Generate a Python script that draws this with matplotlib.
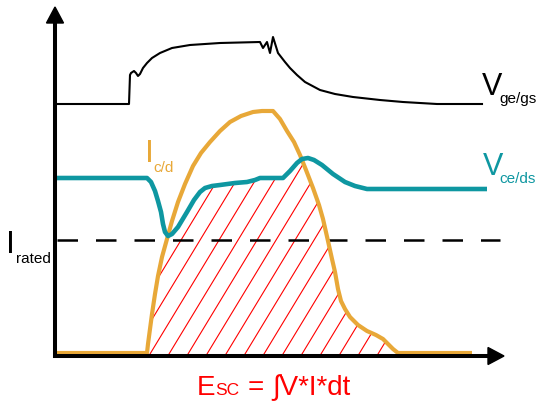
import numpy as np
import matplotlib
matplotlib.use("Agg")
import matplotlib.pyplot as plt
from matplotlib.patches import Polygon

# ---- data (time units, amplitude units; origin at the axes corner) ----
vge_t = [0, 72, 73, 74, 77, 79, 81, 83, 86, 90, 95, 103, 115, 133, 163, 203, 206, 210,
         213, 216, 221, 228, 233, 240, 248, 263, 278, 296, 323, 346, 380, 425]
vge_v = [250, 250, 279, 281, 283, 281, 278, 280, 286, 291, 296, 301, 306, 309, 311, 312, 306, 312,
         301, 317, 301, 292, 286, 279, 272, 264, 260, 257, 254, 252, 250, 250]

vce_t = [0, 90, 94, 98, 101, 104, 106, 108, 111, 115, 121, 130, 137, 143, 148, 155, 163, 178,
         190, 198, 203, 226, 233, 240, 245, 251, 257, 265, 276, 288, 298, 310, 430]
vce_v = [176, 176, 172, 163, 153, 142, 130, 122, 118, 120, 127, 142, 154, 162, 166, 168, 169, 171,
         172, 174, 176, 176, 183, 191, 195, 196, 194, 189, 180, 172, 168, 165, 165]

ic_t = [0, 90, 91, 93, 95, 98, 101, 105, 110, 115, 121, 128, 136, 144, 153, 163, 173, 184, 196,
        205, 216, 223, 230, 237, 243, 249, 256, 262, 266, 271, 275, 278, 281, 284, 288, 293,
        301, 310, 319, 326, 331, 336, 341, 415]
ic_v = [1, 1, 10, 25, 40, 60, 78, 97, 115, 133, 152, 170, 188, 201, 212, 223, 232, 238, 242,
        243, 243, 235, 223, 212, 199, 184, 166, 149, 135, 113, 95, 82, 65, 53, 45, 37,
        29, 23, 19, 15, 10, 5, 1, 1]

i_rated = 114
x_end = 443

ORANGE = "#E8A838"
TEAL = "#0E97A1"
RED = "#FF0000"
FONT = ["Liberation Sans", "DejaVu Sans"]

fig = plt.figure(figsize=(5.37, 4.02), dpi=100)
ax = fig.add_axes([0, 0, 1, 1])
ax.set_xlim(-57, 480)
ax.set_ylim(-47, 355)
ax.axis("off")

# ---- hatched energy area: under min(Ic, Vce) ----
tt = np.linspace(ic_t[1], ic_t[-2], 800)
upper = np.minimum(np.interp(tt, ic_t, ic_v), np.interp(tt, vce_t, vce_v))
poly_xy = np.column_stack([np.r_[tt, tt[::-1]], np.r_[upper, np.full_like(tt, -2)]])
clip = Polygon(poly_xy, closed=True, facecolor="none", edgecolor="none")
ax.add_patch(clip)
slope = 1.65
for x0 in np.arange(93 - 19 * 2, 360, 19.0):
    ys = np.array([-5, 260])
    ln, = ax.plot(x0 + ys / slope, ys, color=RED, lw=0.8, zorder=1)
    ln.set_clip_path(clip)

# ---- curves ----
ax.plot(ic_t, ic_v, color=ORANGE, lw=3.0, zorder=3, solid_capstyle="butt", solid_joinstyle="round")
ax.plot(vce_t, vce_v, color=TEAL, lw=3.3, zorder=4, solid_capstyle="butt", solid_joinstyle="round")
ax.plot(vge_t, vge_v, color="black", lw=1.5, zorder=5, solid_joinstyle="round")

# rated current dashed line
ax.plot([0, x_end], [i_rated, i_rated], color="black", lw=1.8, zorder=2,
        dashes=(20.5 * 0.72 / 1.8, 18 * 0.72 / 1.8), dash_capstyle="butt")

# ---- axes with arrows ----
ax.plot([-2, -2], [-4, 333], color="black", lw=2.9, zorder=6, solid_capstyle="butt")
ax.plot([-4, 433], [-2, -2], color="black", lw=2.9, zorder=6, solid_capstyle="butt")
ax.add_patch(Polygon([[-10.5, 331], [6.5, 331], [-2, 347]], closed=True, color="black", zorder=6))
ax.add_patch(Polygon([[431, -10.5], [431, 6.5], [447, -2]], closed=True, color="black", zorder=6))

# ---- labels ----
ax.text(425, 260, "V", fontsize=22, family=FONT, va="baseline", ha="left")
ax.text(442, 252, "ge/gs", fontsize=11, family=FONT, va="baseline", ha="left")
ax.text(426, 180, "V", fontsize=22, family=FONT, va="baseline", ha="left", color=TEAL)
ax.text(442, 172, "ce/ds", fontsize=11, family=FONT, va="baseline", ha="left", color=TEAL)
ax.text(88, 193, "I", fontsize=23, family=FONT, va="baseline", ha="left", color=ORANGE)
ax.text(96, 183, "c/d", fontsize=11, family=FONT, va="baseline", ha="left", color=ORANGE)
ax.text(-51, 102, "I", fontsize=23, family=FONT, va="baseline", ha="left")
ax.text(-41, 92, "rated", fontsize=11, family=FONT, va="baseline", ha="left")

ax.text(140, -40, "E", fontsize=20, family=FONT, va="baseline", ha="left", color=RED)
ax.text(158, -40, "SC", fontsize=12.5, family=FONT, va="baseline", ha="left", color=RED)
ax.text(191, -40, "=", fontsize=20, family=FONT, va="baseline", ha="left", color=RED)
ax.text(215, -40, "\u222bV*I*dt", fontsize=20, family=FONT, va="baseline", ha="left", color=RED)

fig.savefig("out.png", dpi=100)
